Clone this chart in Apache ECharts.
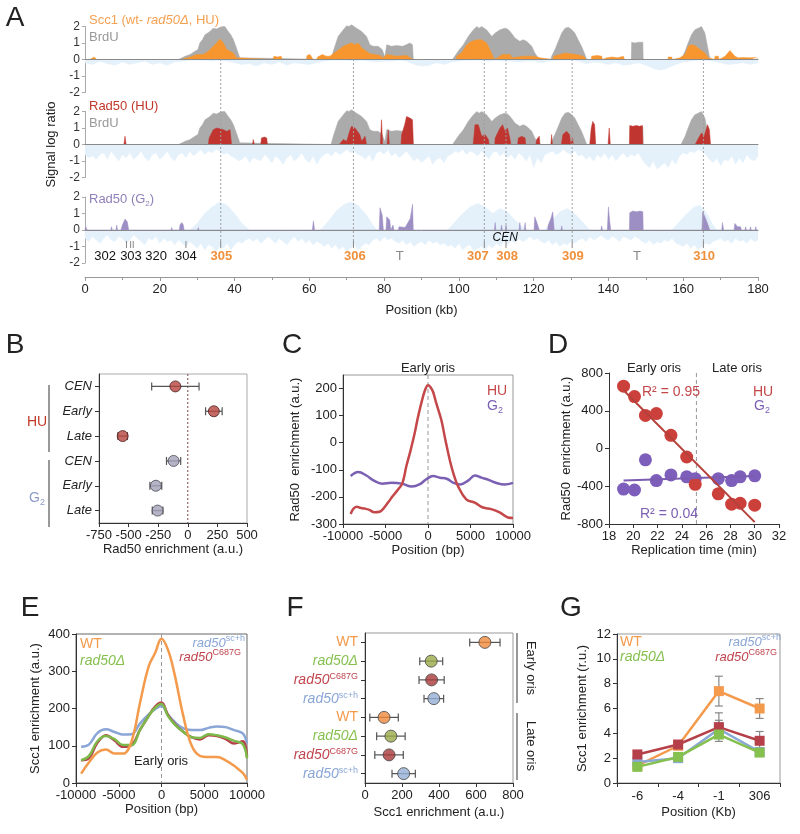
<!DOCTYPE html>
<html><head><meta charset="utf-8">
<script src="https://cdn.jsdelivr.net/npm/echarts@6/dist/echarts.min.js"></script>
<style>html,body{margin:0;padding:0;background:#fff}#c{width:800px;height:834px}</style>
</head><body><div id="c"></div>
<script>
// ================= DATA =================
// Panel A: genomic tracks, [position kb, log ratio]
const brduSignal = [[0,0],[25,0],[25.4,0.1],[26.8,0.2],[28.1,0.3],[29.4,0.5],[30.2,0.6],[30.7,1.0],[31.4,1.2],[32.1,1.5],[33.4,1.7],[34.3,1.9],[35.2,1.85],[36.1,1.95],[36.8,2.0],[37.4,2.0],[38.3,1.7],[39,1.5],[39.7,1.2],[40.5,0.7],[41.4,0.1],[41.8,0],
[65.8,0],[66,0.1],[66.4,0.5],[67.7,1.4],[68.4,1.6],[69.1,1.8],[70,2.05],[70.6,2.0],[71.3,2.1],[72.6,1.9],[73.3,1.8],[74,1.7],[75.3,1.4],[76.2,0.9],[77.1,0.8],[78.4,0.8],[79.5,0.6],[80.2,0.15],[80.7,0.9],[82,0.8],[83.3,0.85],[85,0.8],[86.9,1.0],[87.6,0.9],[87.8,0],
[98.3,0],[98.5,0.1],[99.8,0.5],[101.2,0.9],[102.5,1.4],[103.2,1.6],[103.9,1.8],[104.8,2.0],[105.4,1.9],[106.1,2.0],[107.4,1.8],[108.8,1.4],[109.7,1.6],[111,1.8],[112.3,1.9],[113,1.85],[113.7,1.7],[115,1.3],[116.3,1.1],[117.2,1.2],[118.1,1.1],[119.5,0.8],[120.3,0.4],[121.2,0.1],[122,0],
[124.6,0],[124.8,0.2],[125.7,0.6],[126.6,1.1],[127.5,1.6],[128.4,1.9],[128.9,2.0],[129.3,1.95],[130.2,1.8],[131,1.6],[131.9,1.2],[132.8,0.8],[133.7,0.3],[134.2,0],
[146.1,0],[146.2,1.05],[147,1.0],[148,1.05],[149.2,1.05],[149.3,0],
[159.4,0],[159.6,0.1],[160.5,0.5],[161.3,1.0],[162.2,1.5],[163.1,1.8],[164,1.9],[164.5,1.85],[164.9,2.0],[165.8,1.6],[166.4,0.9],[167,0.2],[167.3,0],[180,0]];

const scc1Signal = [[0,0],[1.2,0],[1.5,0.12],[2.5,0.15],[3.1,0],
[25.6,0],[25.8,0.05],[28.1,0.15],[29.9,0.3],[31.6,0.3],[33,0.5],[34.3,0.8],[35.2,1.0],[36.1,1.25],[37,1.0],[37.9,0.6],[38.8,0.5],[39.7,0.4],[40.5,0.1],[41,0],
[50.3,0],[50.5,0.2],[51.5,0.15],[52.5,0.2],[52.7,0],
[59.2,0],[59.4,0.25],[60.2,0.3],[61,0],[62,0],[62.2,0.15],[63.5,0.3],[64.5,0.2],[65.5,0.2],
[66,0.2],[67.3,0.5],[69.1,0.8],[70,0.9],[71.3,1.0],[72.2,0.9],[73.1,1.0],[74,0.7],[75.3,0.5],[76.2,0.35],[77.6,0.3],[78.9,0.25],[79.8,0.1],[80.7,0.3],[83.3,0.2],[86,0.25],[87.8,0],
[99.3,0],[99.4,0.2],[100.7,0.4],[102.1,0.9],[103.4,1.1],[104.8,1.2],[106.1,1.2],[107.4,1.0],[108.3,0.6],[109.2,0.15],[109.6,0],[110,0],[111.6,0.3],[113.7,0.3],[114.2,0.1],[117.2,0.2],[119.9,0.2],[121.7,0.1],[122,0],
[125.2,0],[125.3,0.2],[127,0.3],[128.4,0.4],[129.7,0.35],[131.5,0.3],[133.3,0.2],[134.2,0],
[135.4,0],[135.5,0.2],[137,0.25],[138.2,0.2],[138.4,0],[139.5,0.1],[141,0.15],[142.5,0.1],[144,0.2],[144.3,0],
[155.9,0],[156,0.15],[156.9,0.15],[157.1,0],[159.1,0.1],[160.5,0.3],[161.3,0.8],[162.2,0.9],[163.1,0.85],[164.5,0.6],[165.8,0.4],[166.7,0.1],[167,0],
[168.4,0],[168.5,0.2],[169.4,0.2],[169.6,0],[171.2,0.2],[172.5,0.55],[173.8,0.2],[174.7,0.1],[176,0.12],[178,0.1],[179.6,0.12],[180,0]];

const rad50HUSignal = [[0,0],[10.4,0],[10.7,0.5],[11,0],
[33,0],[33.2,0.4],[34.3,0.9],[35.2,1.0],[36.1,0.95],[37,0.9],[37.9,0.8],[38.8,0.9],[39.2,0],
[44.8,0],[45,0.3],[45.3,0],[47,0],[47.2,0.4],[48,0.45],[48.6,0.4],[48.8,0],
[68,0],[68.2,0.1],[69.1,0.3],[70,0.2],[70.9,0.9],[71.3,1.1],[72.2,1.0],[72.6,1.1],[73.5,0.6],[74,0.2],[74.9,0.5],[75.3,0],
[79,0],[79.3,1.5],[79.6,0],[80.8,0],[81.1,0.9],[81.4,0],
[84.5,0],[84.7,0.6],[85.5,1.2],[86,1.7],[86.9,1.6],[87.6,1.5],[87.8,0],
[103.8,0],[103.9,0.2],[104.3,1.2],[105.2,1.2],[106.1,0.5],[107,0.6],[107.9,0.3],[108.1,0],
[109.6,0],[109.7,0.4],[111,1.0],[111.7,1.2],[112.3,0.8],[113,1.0],[113.7,0.3],[113.9,0],
[115.7,0],[115.9,0.4],[116.8,0.5],[117.7,0.4],[117.9,0],
[120.6,0],[120.8,0.3],[121.5,0.5],[121.7,0],
[124.6,0],[124.8,0.6],[125,0],
[127.4,0],[127.8,0.6],[128.8,0.8],[129.6,0.6],[129.9,0],[130.3,0],[130.4,0.4],[130.6,0],
[135,0],[135.4,1.0],[135.8,1.4],[136.3,1.2],[136.6,0],
[139.9,0],[140.2,1.0],[140.5,0],
[145.6,0],[145.7,1.15],[146.5,1.1],[147.5,1.15],[148.3,1.1],[149.1,1.15],[149.2,0],
[163.2,0],[163.3,0.1],[164.1,0.4],[164.9,0.7],[165.6,0.5],[166.5,1.2],[167,0.9],[167.3,0],
[170.6,0],[170.8,0.1],[171,0],[172.9,0],[173.1,0.1],[173.3,0],[174.6,0],[174.8,0.1],[175,0],[176.5,0],[176.8,0.1],[177,0],[180,0]];

const rad50G2Signal = [[0,0],[0.2,0.2],[0.6,0],[6.9,0],[7.1,0.2],[7.3,0],[8.3,0],[8.5,0.3],[8.7,0],[9.6,0],[10,0.3],[10.7,0.66],[11.3,0.5],[11.7,0],
[23,0],[23.2,0.15],[23.4,0],[25.2,0],[25.4,0.3],[25.9,0.45],[26.3,0.3],[26.5,0],[30.1,0],[30.3,0.15],[30.5,0],
[52.8,0],[53,0.1],[53.2,0],[60.8,0],[61.1,0.55],[61.4,0],
[78.7,0],[78.9,1.35],[79.5,0.9],[79.8,0],[80.5,0],[80.7,0.8],[81.5,0.6],[81.8,0],[82.3,0],[82.4,0.3],[82.6,0],[83.8,0],[84,0.2],[85.6,0.15],[86,0.3],[87,0.7],[87.6,1.56],[87.8,0],
[98,0],[98.2,0.1],[98.4,0],[109.5,0],[109.7,0.45],[109.9,0],[111.2,0],[111.4,0.3],[111.6,0],[112.4,0],[112.6,0.3],[112.8,0],
[116.1,0],[116.3,0.45],[116.5,0],[117.5,0],[117.7,0.45],[117.9,0],[120.1,0],[120.3,0.8],[120.8,0.5],[121.2,0.6],[121.5,0],
[123.7,0],[123.9,0.3],[124.6,0.7],[125.1,1.1],[125.5,0],[127.3,0],[127.5,0.25],[127.7,0],
[134.1,0],[134.2,0.05],[134.4,0],[135.9,0],[136,0.1],[136.2,0],[138,0],[138.2,0.25],[138.4,0],[139.7,0],[140,1.4],[140.3,0.6],[140.6,0],
[145.6,0],[145.7,1.05],[146.5,1.15],[147.5,1.1],[148.5,1.15],[149.2,1.1],[149.3,0],
[152.9,0],[153,0.1],[153.2,0],[165,0],[165.2,1.1],[165.8,0.8],[166.5,0.4],[167.1,0],
[170.3,0],[170.5,0.45],[170.8,0],[173.6,0],[173.8,0.4],[174.5,0.2],[175.3,0.2],[175.6,0],[176.5,0],[176.7,0.2],[176.9,0],[177.8,0],[178,0.2],[178.2,0],[179.2,0],[179.4,0.2],[179.6,0],[180,0]];

// light-blue background signals (evenly spaced bins)
const bgStep1 = 2;
const bgTrack1 = [-0.2,-0.3,-0.1,-0.25,-0.35,-0.15,-0.3,-0.2,-0.1,-0.3,-0.2,
-0.35,-0.15,-0.1,-0.05,-0.05,-0.05,-0.1,-0.05,-0.1,-0.2,
-0.3,-0.25,-0.4,-0.2,-0.3,-0.15,-0.35,-0.2,-0.25,-0.3,
-0.2,-0.1,-0.05,-0.05,-0.05,-0.1,-0.05,-0.1,-0.15,-0.1,
-0.1,-0.05,-0.1,-0.3,-0.4,-0.35,-0.2,-0.3,-0.15,-0.1,
-0.05,-0.05,-0.05,-0.1,-0.05,-0.1,-0.1,-0.15,-0.1,-0.1,
-0.2,-0.1,-0.05,-0.05,-0.05,-0.1,-0.25,-0.15,-0.2,-0.3,
-0.2,-0.35,-0.3,-0.2,-0.35,-0.55,-0.65,-0.5,-0.3,-0.15,
-0.1,-0.05,-0.05,-0.1,-0.2,-0.3,-0.25,-0.2,-0.3,-0.2];
const bgStep2 = 1;
const bgTrack2 = [-0.6,-0.8,-0.7,-0.9,-0.6,-0.5,-0.9,-0.4,-0.7,-1.0,-0.6,-0.8,-0.5,-0.9,-0.7,-0.4,-0.8,-1.0,-0.6,-0.5,
-0.9,-0.7,-0.4,-0.8,-1.0,-0.6,-0.5,-0.8,-0.4,-0.7,-0.5,-0.3,-0.6,-0.4,-0.5,-0.3,-0.4,-0.6,-0.5,-0.7,
-0.8,-1.0,-0.9,-0.7,-1.1,-0.8,-0.9,-1.0,-0.6,-0.8,-1.1,-0.7,-0.9,-1.2,-0.8,-0.6,-1.0,-0.8,-0.5,-0.9,
-1.1,-0.7,-1.2,-0.8,-0.6,-0.5,-0.7,-0.4,-0.6,-0.5,-0.3,-0.5,-0.4,-0.6,-0.7,-0.9,-0.6,-1.0,-0.5,-0.4,
-0.6,-0.3,-0.7,-0.5,-0.8,-0.6,-0.4,-0.7,-1.0,-0.8,-1.1,-0.9,-0.7,-1.2,-0.9,-0.8,-1.1,-0.7,-0.6,-0.4,
-0.5,-0.3,-0.6,-0.4,-0.5,-0.7,-0.4,-0.6,-0.9,-0.5,-0.4,-0.7,-0.5,-0.8,-0.6,-0.9,-0.5,-0.7,-1.0,-0.6,
-1.4,-0.8,-1.1,-0.6,-0.5,-0.4,-0.6,-0.5,-0.3,-0.5,-0.6,-0.4,-0.7,-0.6,-0.9,-0.7,-1.0,-0.6,-0.8,-0.5,
-0.9,-0.6,-1.0,-0.7,-0.5,-0.8,-0.6,-0.7,-0.5,-0.9,-1.2,-1.4,-1.0,-1.5,-1.3,-1.1,-1.4,-0.9,-1.2,-0.7,
-0.5,-0.6,-0.4,-0.5,-0.3,-0.4,-0.6,-0.9,-1.1,-0.8,-1.3,-0.9,-1.0,-0.7,-1.2,-0.8,-1.1,-0.6,-0.9,-1.0,-0.7];
const bgStep3 = 1;
const bgTrack3Neg = [-0.5,-0.7,-0.4,-0.6,-0.8,-0.5,-0.3,-0.6,-0.7,-0.4,-0.5,-0.8,-0.6,-0.3,-0.5,-0.7,-0.9,-0.5,-0.6,-0.4,
-0.8,-0.5,-0.7,-0.6,-0.9,-0.6,-0.8,-1.0,-0.7,-0.9,-1.1,-0.8,-1.2,-0.9,-1.0,-1.3,-1.0,-1.1,-0.8,-1.2,
-0.9,-0.7,-0.8,-0.6,-0.5,-0.7,-0.5,-0.8,-0.6,-0.4,-0.6,-0.8,-0.5,-0.7,-0.9,-0.6,-0.4,-0.7,-0.5,-0.8,
-0.6,-0.9,-0.7,-0.8,-1.0,-0.8,-1.1,-0.9,-1.2,-1.0,-1.3,-1.1,-0.9,-1.2,-1.0,-0.8,-0.9,-0.6,-0.5,-0.7,
-0.4,-0.6,-0.5,-0.7,-0.8,-0.6,-0.9,-0.7,-1.0,-0.8,-0.7,-0.9,-0.6,-0.8,-0.7,-0.9,-0.8,-1.0,-0.9,-1.1,
-0.8,-1.2,-1.0,-0.9,-1.3,-1.1,-1.0,-1.2,-0.9,-1.1,-0.8,-1.0,-0.7,-0.9,-0.6,-0.8,-0.5,-0.7,-0.6,-0.4,
-0.6,-0.5,-0.7,-0.8,-0.6,-0.9,-0.7,-1.0,-0.8,-0.9,-0.7,-0.8,-0.6,-0.5,-0.7,-0.4,-0.6,-0.5,-0.3,-0.5,
-0.6,-0.4,-0.5,-0.7,-0.4,-0.5,-0.6,-0.4,-0.5,-0.7,-0.8,-0.6,-0.9,-0.7,-0.8,-0.6,-0.7,-0.5,-0.8,-0.9,
-1.0,-0.8,-1.1,-0.9,-1.2,-1.0,-0.8,-0.9,-0.7,-0.6,-0.5,-0.7,-0.6,-0.8,-0.5,-0.7,-0.6,-0.8,-0.5,-0.7,-0.6];
const bgTrack3Pos = [[0,0],[28,0],[30,0.4],[32,1.0],[34,1.4],[36,1.7],[38,1.5],[40,1.0],[42,0.4],[44,0],
[63,0],[65,0.5],[67,1.1],[69,1.5],[71,1.7],[73,1.5],[75,1.0],[77,0.3],[78,0],
[97,0],[99,0.5],[101,1.0],[103,1.4],[105,1.6],[107,1.4],[109,1.0],[111,1.3],[113,1.1],[115,0.6],[117,0.2],[118,0],
[123,0],[125,0.6],[127,1.1],[129,1.3],[131,1.0],[133,0.5],[135,0],
[157,0],[159,0.5],[161,1.0],[163,1.4],[164.5,1.5],[166,1.1],[168,0.3],[169,0],[180,0]];

const oriNames   = ['302','303','320','304','305','306','T','307','308','309','T','310'];
const oriKind    = ['ars','ars','ars','ars','early','early','tel','early','early','early','tel','early'];
const oriLabelKb = [5.4,12.3,19.0,27.0,36.5,72.2,84.2,105.1,112.9,130.5,147.6,165.6];
const oriTickKb  = [11.1,12.2,12.9,27.0,36.3,71.8,106.8,112.6,130.3,165.4];
const earlyOriKb = [36.3,71.8,106.8,112.6,130.3,165.4];
const cenKb = 112.4;

// Panel B
const bCats = ['HU|CEN','HU|Early','HU|Late','G2|CEN','G2|Early','G2|Late'];
const bVals = [-105, 220, -550, -120, -270, -255];
const bErr  = [200, 70, 40, 60, 50, 45];

// Panel C
const cPos = [-9100,-8800,-8430,-8000,-7450,-6900,-6300,-5700,-5300,-4700,-4120,-3500,-3000,-2550,-2080,-1570,-1170,-590,-275,0,275,590,980,1570,2040,2550,3020,3530,4500,5500,6470,7450,8430,9400,10000];
const cHU  = [-263,-245,-236,-240,-243,-248,-257,-255,-245,-221,-196,-172,-148,-87,-32,35,96,170,200,212,206,188,145,84,11,-62,-117,-160,-209,-221,-239,-245,-257,-276,-278];
const cG2Pos = [-9100,-8200,-7250,-6300,-5400,-4300,-3100,-1900,-1000,-200,600,1400,2200,3000,3800,4800,5500,6300,7200,8000,9000,10000];
const cG2 = [-123,-108,-121,-141,-151,-148,-151,-162,-154,-135,-123,-129,-133,-148,-154,-138,-121,-129,-138,-148,-154,-148];

// Panel D
const dTime = [19.2,20.1,21.0,21.9,23.1,24.4,25.1,27.0,28.1,28.8,30.0];
const dHU   = [660,550,350,370,140,-90,-380,-480,-590,-580,-600];
const dG2   = [-430,-440,-120,-340,-280,-300,-320,-320,-340,-300,-290];
const dDivider = 25.2;

// Panel E
const ePos = [-9400,-8500,-7500,-6500,-5500,-4500,-3500,-2500,-1500,-750,0,750,1500,2500,3500,4500,5500,6500,7500,8500,9500,10000];
const eWT  = [25,55,82,90,79,79,112,217,313,349,387,358,295,185,102,73,70,70,61,46,27,9];
const eSC  = [97,103,134,144,137,130,131,160,184,198,207,184,165,147,142,142,148,152,150,142,133,106];
const eDel = [61,72,112,126,118,102,102,143,180,202,212,180,158,138,123,121,131,128,122,113,105,66];
const eC687 = [61,66,108,128,114,97,102,143,180,205,216,183,160,138,123,117,128,126,118,106,112,70];

// Panel F
const fCats = ['WT|E','del|E','C687G|E','sch|E','WT|L','del|L','C687G|L','sch|L'];
const fVals = [648, 358, 360, 372, 103, 140, 130, 209];
const fErr  = [82, 62, 68, 53, 77, 77, 77, 63];

// Panel G
const gCats = ['-6','-4','-1','306'];
const gWT   = [1.4, 3.0, 7.4, 6.0];
const gSC   = [1.7, 2.0, 4.35, 2.5];
const gC687 = [2.3, 3.1, 4.5, 3.4];
const gDel  = [1.3, 2.1, 3.9, 2.45];
const gErrWT   = [0, 0, 1.2, 0.8];
const gErrSC   = [0, 0, 0.7, 0];
const gErrC687 = [0, 0, 1.15, 0.75];

// ================= STYLE =================
const FF = "'Liberation Sans', Arial, Helvetica, sans-serif";
const TXT = '#222';
const C_LB = '#e4f1fb', C_GR = '#ababab', C_OR = '#f7962e', C_RD = '#c0352f', C_PU = '#9d8fc4';
const ORG = '#f39a4c', GRN = '#86c150', RED = '#c0454d', BLU = '#8aa6d6';

function T(x, y, text, o) {
  o = o || {};
  const al = o.align || 'left', va = o.va || 'middle';
  const st = {text: text, fill: o.fill || TXT, fontSize: o.size || 13, fontFamily: FF,
    fontStyle: o.italic ? 'italic' : 'normal', fontWeight: o.bold ? 'bold' : 'normal',
    align: al, verticalAlign: va, textAlign: al, textVerticalAlign: va};
  if (o.rich) st.rich = o.rich;
  return {type: 'text', x: x, y: y, rotation: o.rot || 0, silent: true, z: 100, style: st};
}
function RT(fill, size, italic, pos) {
  const r = {fill: fill, fontSize: size, fontFamily: FF, fontStyle: italic ? 'italic' : 'normal'};
  if (pos === 'sup') { r.lineHeight = size; r.verticalAlign = 'top'; }
  else if (pos === 'sub') { r.lineHeight = size; r.verticalAlign = 'bottom'; }
  else { r.lineHeight = size + 4; }
  return r;
}
function L(x1, y1, x2, y2, c) {
  return {type: 'line', silent: true, z: 100, shape: {x1: x1, y1: y1, x2: x2, y2: y2}, style: {stroke: c || '#333', lineWidth: 1}};
}
const plain = v => String(v);

// ================= GRIDS / AXES =================
const grids = [
  {left: 85, top: 26.5, width: 673, height: 66},   // 0 A track1
  {left: 85, top: 111.5, width: 673, height: 66},  // 1 A track2
  {left: 85, top: 197, width: 673, height: 66},    // 2 A track3
  {left: 85, top: 270, width: 673, height: 7},     // 3 A position axis
  {left: 85, top: 59, width: 673, height: 218},    // 4 A overlay (origins)
  {left: 99, top: 374, width: 148, height: 149, show: true, borderColor: '#aaa'},  // 5 B
  {left: 343, top: 375, width: 170, height: 149, show: true, borderColor: '#999'}, // 6 C
  {left: 609, top: 373, width: 170, height: 151},  // 7 D
  {left: 76, top: 634, width: 171, height: 149, show: true, borderColor: '#666'},  // 8 E
  {left: 365, top: 633, width: 148, height: 150, show: true, borderColor: '#999'}, // 9 F
  {left: 617, top: 634, width: 163, height: 149, show: true, borderColor: '#999'}  // 10 G
].map(g => Object.assign({containLabel: false, outerBoundsMode: 'none', backgroundColor: 'transparent', borderWidth: 1}, g));

const axLab = {fontSize: 13, color: TXT, fontFamily: FF};
const nameTS = {fontSize: 13, color: TXT, fontFamily: FF};
function valAxis(gi, min, max, interval, extra) {
  return Object.assign({gridIndex: gi, type: 'value', min: min, max: max, interval: interval,
    axisLine: {show: true, onZero: false, lineStyle: {color: '#333'}},
    axisTick: {show: true, length: 4, lineStyle: {color: '#333'}},
    axisLabel: Object.assign({margin: 6, formatter: plain}, axLab), splitLine: {show: false},
    nameLocation: 'middle', nameTextStyle: nameTS}, extra || {});
}
function trackX(gi) {
  return {gridIndex: gi, type: 'value', min: 0, max: 180, z: 5,
    axisLine: {show: true, onZero: true, lineStyle: {color: '#8a8a8a', width: 1}},
    axisTick: {show: false}, axisLabel: {show: false}, splitLine: {show: false}};
}
function trackY(gi, name) {
  return {gridIndex: gi, type: 'value', min: -2, max: 2, interval: 1,
    axisLine: {show: true, onZero: false, lineStyle: {color: '#aaa'}},
    axisTick: {show: true, length: 3, lineStyle: {color: '#aaa'}},
    axisLabel: {fontSize: 12, color: '#333', margin: 5, fontFamily: FF, formatter: plain}, splitLine: {show: false},
    name: name || '', nameLocation: 'middle', nameGap: 27, nameTextStyle: nameTS};
}

const xAxes = [
  trackX(0), trackX(1), trackX(2),
  valAxis(3, 0, 180, 20, {axisLine: {show: true, onZero: false, lineStyle: {color: '#999'}}, axisTick: {show: true, length: 4, lineStyle: {color: '#999'}},
    minorTick: {show: true, splitNumber: 2, length: 3, lineStyle: {color: '#999'}},
    name: 'Position (kb)', nameGap: 27}),
  {gridIndex: 4, type: 'value', min: 0, max: 180, show: false},
  valAxis(5, -750, 500, 250, {name: 'Rad50 enrichment (a.u.)', nameGap: 20}),
  valAxis(6, -10000, 10000, 5000, {name: 'Position (bp)', nameGap: 20}),
  valAxis(7, 18, 32, 2, {name: 'Replication time (min)', nameGap: 20}),
  valAxis(8, -10000, 10000, 5000, {name: 'Position (bp)', nameGap: 20}),
  valAxis(9, 0, 800, 200, {name: 'Scc1 enrichment (a.u.)', nameGap: 23}),
  {gridIndex: 10, type: 'category', data: gCats, boundaryGap: true,
    axisLine: {show: true, onZero: false, lineStyle: {color: '#333'}}, axisTick: {show: true, length: 4, lineStyle: {color: '#333'}},
    axisLabel: Object.assign({margin: 7}, axLab), name: 'Position (Kb)', nameLocation: 'middle', nameGap: 23, nameTextStyle: nameTS}
];

const fLabelMap = {WT: '{wt|WT}', del: '{d|rad50Δ}', C687G: '{c|rad50}{cs|C687G}', sch: '{s|rad50}{ss|sc+h}'};
const yAxes = [
  trackY(0), trackY(1, 'Signal log ratio'), trackY(2),
  {gridIndex: 3, type: 'value', min: 0, max: 1, show: false},
  {gridIndex: 4, type: 'value', min: 0, max: 1, inverse: true, show: false},
  {gridIndex: 5, type: 'category', data: bCats, inverse: true,
    axisLine: {show: true, onZero: false, lineStyle: {color: '#333'}}, axisTick: {show: true, alignWithLabel: true, length: 4, lineStyle: {color: '#333'}},
    axisLabel: Object.assign({margin: 7, fontStyle: 'italic', formatter: v => v.split('|')[1]}, axLab)},
  valAxis(6, -300, 250, 100, {axisLabel: Object.assign({margin: 6, showMaxLabel: false, formatter: plain}, axLab), name: 'Rad50  enrichment (a.u.)', nameGap: 41}),
  valAxis(7, -800, 800, 400, {name: 'Rad50  enrichment (a.u.)', nameGap: 30}),
  valAxis(8, 0, 400, 100, {name: 'Scc1 enrichment (a.u.)', nameGap: 34}),
  {gridIndex: 9, type: 'category', data: fCats, inverse: true,
    axisLine: {show: true, onZero: false, lineStyle: {color: '#333'}}, axisTick: {show: true, alignWithLabel: true, length: 4, lineStyle: {color: '#333'}},
    axisLabel: {margin: 7, formatter: v => fLabelMap[v.split('|')[0]],
      rich: {
        wt: {color: ORG, fontSize: 14, fontFamily: FF, lineHeight: 16},
        d: {color: GRN, fontSize: 14, fontFamily: FF, fontStyle: 'italic', lineHeight: 16},
        c: {color: RED, fontSize: 14, fontFamily: FF, fontStyle: 'italic', lineHeight: 16},
        cs: {color: RED, fontSize: 9, fontFamily: FF, lineHeight: 9, verticalAlign: 'top'},
        s: {color: BLU, fontSize: 14, fontFamily: FF, fontStyle: 'italic', lineHeight: 16},
        ss: {color: BLU, fontSize: 9, fontFamily: FF, lineHeight: 9, verticalAlign: 'top'}
      }}},
  valAxis(10, 0, 12, 2, {name: 'Scc1 enrichment (r.u.)', nameGap: 28})
];

// ================= SERIES =================
function area(data, gi, color, z, op) {
  return {type: 'line', xAxisIndex: gi, yAxisIndex: gi, data: data, symbol: 'none', showSymbol: false,
    lineStyle: {width: 0.5, color: color}, itemStyle: {color: color},
    areaStyle: {color: color, opacity: op || 1}, silent: true, z: z, clip: false};
}
const binned = (arr, step) => arr.map((v, i) => [i * step, v]);

function hErrBars(gi, vals, errs, color) {
  return {type: 'custom', xAxisIndex: gi, yAxisIndex: gi, z: 3, silent: true,
    data: vals.map((v, i) => [v - errs[i], v + errs[i], i]), encode: {x: [0, 1], y: 2},
    renderItem: (p, api) => {
      const a = api.coord([api.value(0), api.value(2)]), b = api.coord([api.value(1), api.value(2)]);
      const st = {stroke: color, lineWidth: 1.2};
      return {type: 'group', children: [
        {type: 'line', shape: {x1: a[0], y1: a[1], x2: b[0], y2: b[1]}, style: st},
        {type: 'line', shape: {x1: a[0], y1: a[1] - 4, x2: a[0], y2: a[1] + 4}, style: st},
        {type: 'line', shape: {x1: b[0], y1: b[1] - 4, x2: b[0], y2: b[1] + 4}, style: st}]};
    }};
}
function vErrBars(gi, vals, errs, color) {
  return {type: 'custom', xAxisIndex: gi, yAxisIndex: gi, z: 4, silent: true,
    data: vals.map((v, i) => [i, v - errs[i], v + errs[i]]).filter(d => d[2] > d[1]), encode: {x: 0, y: [1, 2]},
    renderItem: (p, api) => {
      const a = api.coord([api.value(0), api.value(1)]), b = api.coord([api.value(0), api.value(2)]);
      const st = {stroke: color, lineWidth: 1.2};
      return {type: 'group', children: [
        {type: 'line', shape: {x1: a[0], y1: a[1], x2: b[0], y2: b[1]}, style: st},
        {type: 'line', shape: {x1: a[0] - 4, y1: a[1], x2: a[0] + 4, y2: a[1]}, style: st},
        {type: 'line', shape: {x1: b[0] - 4, y1: b[1], x2: b[0] + 4, y2: b[1]}, style: st}]};
    }};
}
// vertical guide at a data x value spanning the whole grid height
function vGuide(gi, xVal, color, dash) {
  return {type: 'custom', xAxisIndex: gi, yAxisIndex: gi, z: 2, silent: true, data: [[xVal]], encode: {x: 0},
    renderItem: (p, api) => {
      const cs = p.coordSys; const x = api.coord([api.value(0), 0])[0];
      return {type: 'line', shape: {x1: x, y1: cs.y, x2: x, y2: cs.y + cs.height}, style: {stroke: color, lineWidth: 1, lineDash: dash}};
    }};
}
function regress(xs, ys) {
  const n = xs.length, mx = xs.reduce((a, b) => a + b) / n, my = ys.reduce((a, b) => a + b) / n;
  let sxy = 0, sxx = 0;
  for (let i = 0; i < n; i++) { sxy += (xs[i] - mx) * (ys[i] - my); sxx += (xs[i] - mx) ** 2; }
  const k = sxy / sxx, x0 = Math.min(...xs), x1 = Math.max(...xs);
  return [[x0, my + k * (x0 - mx)], [x1, my + k * (x1 - mx)]];
}
const pairs = (xs, ys) => xs.map((x, i) => [x, ys[i]]);

const DOT_END = 0.835, TICK_END = 0.867, LBL_Y = 0.905, CEN_Y = 0.818;
const series = [
  // Track 1
  area(binned(bgTrack1, bgStep1), 0, C_LB, 1, 1),
  area(brduSignal, 0, C_GR, 2),
  area(scc1Signal, 0, C_OR, 3),
  // Track 2
  area(binned(bgTrack2, bgStep2), 1, C_LB, 1, 1),
  area(brduSignal, 1, C_GR, 2),
  area(rad50HUSignal, 1, C_RD, 3),
  // Track 3
  area(bgTrack3Pos, 2, C_LB, 1, 1),
  area(binned(bgTrack3Neg, bgStep3), 2, C_LB, 1, 1),
  area(rad50G2Signal, 2, C_PU, 3),
  // origin guides
  {type: 'custom', xAxisIndex: 4, yAxisIndex: 4, z: 6, silent: true, data: earlyOriKb.map(k => [k, 0]), encode: {x: 0, y: 1},
    renderItem: (p, api) => { const a = api.coord([api.value(0), 0]), b = api.coord([api.value(0), DOT_END]);
      return {type: 'line', shape: {x1: a[0], y1: a[1], x2: b[0], y2: b[1]}, style: {stroke: '#a0a0a0', lineWidth: 1, lineDash: [2, 2]}}; }},
  {type: 'custom', xAxisIndex: 4, yAxisIndex: 4, z: 6, silent: true, data: oriTickKb.map(k => [k, 0]), encode: {x: 0, y: 1},
    renderItem: (p, api) => { const a = api.coord([api.value(0), DOT_END]), b = api.coord([api.value(0), TICK_END]);
      return {type: 'line', shape: {x1: a[0], y1: a[1], x2: b[0], y2: b[1]}, style: {stroke: '#888', lineWidth: 1}}; }},
  {type: 'custom', xAxisIndex: 4, yAxisIndex: 4, z: 6, silent: true, data: oriLabelKb.map(k => [k, LBL_Y]), encode: {x: 0, y: 1},
    renderItem: (p, api) => { const a = api.coord([api.value(0), api.value(1)]); const kind = oriKind[p.dataIndex];
      const fill = kind === 'early' ? '#f0903a' : (kind === 'tel' ? '#888' : '#111');
      return {type: 'text', x: a[0], y: a[1], style: {text: oriNames[p.dataIndex], fill: fill, fontSize: 13, fontFamily: FF,
        fontWeight: kind === 'early' ? 'bold' : 'normal', align: 'center', verticalAlign: 'middle', textAlign: 'center', textVerticalAlign: 'middle'}}; }},
  {type: 'custom', xAxisIndex: 4, yAxisIndex: 4, z: 6, silent: true, data: [[cenKb, CEN_Y]], encode: {x: 0, y: 1},
    renderItem: (p, api) => { const a = api.coord([api.value(0), api.value(1)]);
      return {type: 'text', x: a[0], y: a[1], style: {text: 'CEN', fill: '#111', fontSize: 12, fontFamily: FF, fontStyle: 'italic',
        align: 'center', verticalAlign: 'middle', textAlign: 'center', textVerticalAlign: 'middle'}}; }},

  // Panel B
  vGuide(5, 0, '#7a4848', [2, 2]),
  hErrBars(5, bVals, bErr, '#555'),
  {type: 'scatter', xAxisIndex: 5, yAxisIndex: 5, z: 5, symbolSize: 11,
    data: bVals.map((v, i) => ({value: [v, i], itemStyle: {color: i < 3 ? '#b5443d' : '#a3a1b9', borderColor: i < 3 ? '#4a2020' : '#4a4a55', borderWidth: 1}}))},

  // Panel C
  vGuide(6, 0, '#999', [4, 3]),
  {type: 'line', xAxisIndex: 6, yAxisIndex: 6, data: pairs(cPos, cHU), smooth: 0.4, symbol: 'none', lineStyle: {color: '#c4474a', width: 2.5}, z: 4},
  {type: 'line', xAxisIndex: 6, yAxisIndex: 6, data: pairs(cG2Pos, cG2), smooth: 0.4, symbol: 'none', lineStyle: {color: '#7b5fb3', width: 2.5}, z: 3},

  // Panel D
  vGuide(7, dDivider, '#999', [4, 3]),
  {type: 'scatter', xAxisIndex: 7, yAxisIndex: 7, data: pairs(dTime, dG2), symbolSize: 13, itemStyle: {color: '#7d5eba', opacity: 1}, z: 3},
  {type: 'scatter', xAxisIndex: 7, yAxisIndex: 7, data: pairs(dTime, dHU), symbolSize: 13, itemStyle: {color: '#cc403c', opacity: 1}, z: 4},
  {type: 'line', xAxisIndex: 7, yAxisIndex: 7, data: regress(dTime, dG2), symbol: 'none', lineStyle: {color: '#7b5cb0', width: 2}, z: 5},
  {type: 'line', xAxisIndex: 7, yAxisIndex: 7, data: regress(dTime, dHU), symbol: 'none', lineStyle: {color: '#b5413b', width: 2}, z: 5},

  // Panel E
  vGuide(8, 0, '#999', [4, 3]),
  {type: 'line', xAxisIndex: 8, yAxisIndex: 8, data: pairs(ePos, eSC), smooth: 0.4, symbol: 'none', lineStyle: {color: BLU, width: 2.5}, z: 3},
  {type: 'line', xAxisIndex: 8, yAxisIndex: 8, data: pairs(ePos, eC687), smooth: 0.4, symbol: 'none', lineStyle: {color: '#b5404a', width: 2.5}, z: 4},
  {type: 'line', xAxisIndex: 8, yAxisIndex: 8, data: pairs(ePos, eDel), smooth: 0.4, symbol: 'none', lineStyle: {color: '#7db84a', width: 2.5}, z: 5},
  {type: 'line', xAxisIndex: 8, yAxisIndex: 8, data: pairs(ePos, eWT), smooth: 0.4, symbol: 'none', lineStyle: {color: '#f39a4c', width: 2.5}, z: 6},

  // Panel F
  hErrBars(9, fVals, fErr, '#555'),
  {type: 'scatter', xAxisIndex: 9, yAxisIndex: 9, z: 5, symbolSize: 12,
    data: fVals.map((v, i) => ({value: [v, i], itemStyle: {color: ['#f08a3c', '#9aaa48', '#a8393a', '#95afd5'][i % 4], borderColor: '#444', borderWidth: 1}}))},

  // Panel G
  vErrBars(10, gWT, gErrWT, '#888'),
  vErrBars(10, gSC, gErrSC, '#888'),
  vErrBars(10, gC687, gErrC687, '#888'),
  {type: 'line', xAxisIndex: 10, yAxisIndex: 10, data: gWT, symbol: 'rect', symbolSize: 10, lineStyle: {color: '#f39a4c', width: 2.5}, itemStyle: {color: '#f39a4c'}, z: 5},
  {type: 'line', xAxisIndex: 10, yAxisIndex: 10, data: gSC, symbol: 'rect', symbolSize: 10, lineStyle: {color: '#8aa8d6', width: 2.5}, itemStyle: {color: '#8aa8d6'}, z: 5},
  {type: 'line', xAxisIndex: 10, yAxisIndex: 10, data: gC687, symbol: 'rect', symbolSize: 10, lineStyle: {color: '#b5404a', width: 2.5}, itemStyle: {color: '#b5404a'}, z: 5},
  {type: 'line', xAxisIndex: 10, yAxisIndex: 10, data: gDel, symbol: 'rect', symbolSize: 10, lineStyle: {color: '#86c150', width: 2.5}, itemStyle: {color: '#86c150'}, z: 6}
];

// ================= TEXT / ANNOTATIONS =================
const supRich = (c) => ({i: RT(c, 13, true), s: RT(c, 9, false, 'sup')});
const graphic = [
  T(15, 18, 'A', {size: 28, align: 'center'}),
  T(15, 345, 'B', {size: 28, align: 'center'}),
  T(292, 345, 'C', {size: 28, align: 'center'}),
  T(558, 345, 'D', {size: 28, align: 'center'}),
  T(30, 608, 'E', {size: 28, align: 'center'}),
  T(295, 608, 'F', {size: 28, align: 'center'}),
  T(571, 608, 'G', {size: 28, align: 'center'}),
  // Panel A track titles
  T(89, 20, '{a|Scc1 (wt- }{b|rad50Δ}{a|, HU)}', {rich: {a: RT('#f5a050', 13), b: RT('#f5a050', 13, true)}}),
  T(89, 37, 'BrdU', {fill: '#999'}),
  T(89, 106, 'Rad50 (HU)', {fill: '#c0392b'}),
  T(89, 123, 'BrdU', {fill: '#999'}),
  T(89, 199, '{a|Rad50 (G}{b|2}{a|)}', {rich: {a: RT('#9080b8', 13), b: RT('#9080b8', 8, false, 'sub')}}),
  // Panel B brackets
  L(49, 385, 49, 452), L(49, 460, 49, 527),
  T(37, 422, 'HU', {fill: '#c0392b', size: 14, align: 'center'}),
  T(37, 498, '{a|G}{b|2}', {align: 'center', rich: {a: RT('#8e9bc8', 14), b: RT('#8e9bc8', 9, false, 'sub')}}),
  // Panel C
  T(428, 368, 'Early oris', {align: 'center'}),
  T(487, 391, 'HU', {fill: '#c4474a', size: 14}),
  T(487, 406, '{a|G}{b|2}', {rich: {a: RT('#7b5fb3', 14), b: RT('#7b5fb3', 9, false, 'sub')}}),
  // Panel D
  T(654, 368, 'Early oris', {align: 'center'}),
  T(737, 368, 'Late oris', {align: 'center'}),
  T(642, 392, 'R² = 0.95', {fill: '#c4474a', size: 14}),
  T(640, 514, 'R² = 0.04', {fill: '#7b5fb3', size: 14}),
  T(753, 392, 'HU', {fill: '#c4474a', size: 14}),
  T(754, 406, '{a|G}{b|2}', {rich: {a: RT('#7b5fb3', 14), b: RT('#7b5fb3', 9, false, 'sub')}}),
  // Panel E legend
  T(80, 644, 'WT', {fill: ORG, size: 14}),
  T(80, 661, 'rad50Δ', {fill: GRN, size: 14, italic: true}),
  T(245, 643, '{i|rad50}{s|sc+h}', {align: 'right', rich: supRich(BLU)}),
  T(241, 657, '{i|rad50}{s|C687G}', {align: 'right', rich: supRich(RED)}),
  T(161, 761, 'Early oris', {align: 'center'}),
  // Panel F brackets
  L(517, 633, 517, 703), L(517, 713, 517, 780),
  T(531, 668, 'Early oris', {align: 'center', rot: -Math.PI / 2}),
  T(531, 746, 'Late oris', {align: 'center', rot: -Math.PI / 2}),
  // Panel G legend
  T(620, 642, 'WT', {fill: ORG, size: 14}),
  T(620, 657, 'rad50Δ', {fill: GRN, size: 14, italic: true}),
  T(781, 642, '{i|rad50}{s|sc+h}', {align: 'right', rich: supRich(BLU)}),
  T(777, 657, '{i|rad50}{s|C687G}', {align: 'right', rich: supRich(RED)})
];

const chart = echarts.init(document.getElementById('c'), null, {renderer: 'canvas', width: 800, height: 834});
chart.setOption({
  animation: false, backgroundColor: '#fff', textStyle: {fontFamily: FF},
  grid: grids, xAxis: xAxes, yAxis: yAxes, series: series, graphic: graphic
});
</script></body></html>
